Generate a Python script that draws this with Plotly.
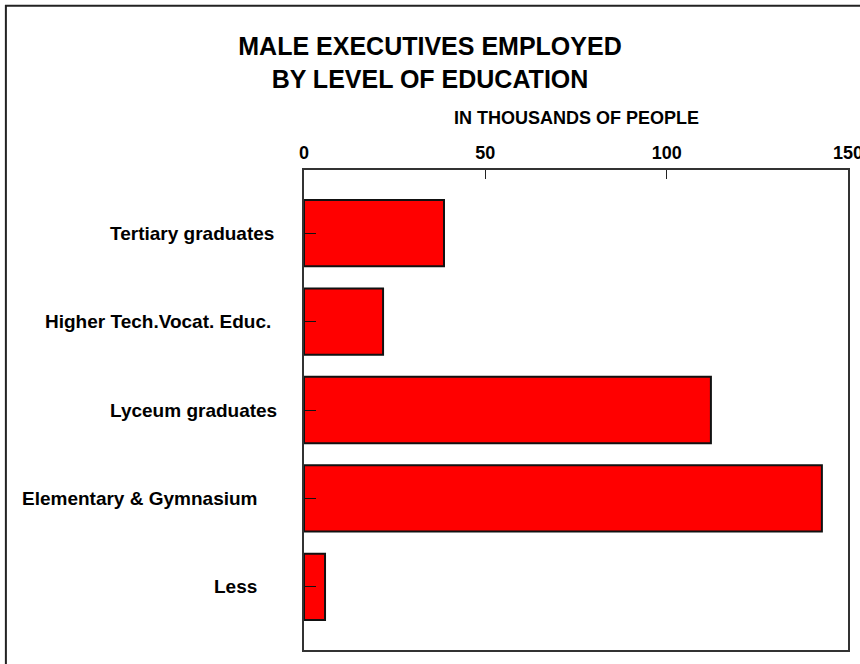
import plotly.graph_objects as go

# data (thousands of people)
categories = [
    "Tertiary graduates",
    "Higher Tech.Vocat. Educ.",
    "Lyceum graduates",
    "Elementary & Gymnasium",
    "Less",
]
executives = [38.6, 21.8, 112.2, 142.8, 5.8]
x_ticks = [0, 50, 100, 150]

# right-edge offsets of the category labels from the axis, in pixels
label_gap = [28, 31, 25, 45, 45]

font_family = "Liberation Sans, Arial, sans-serif"

fig = go.Figure()
fig.add_trace(go.Bar(
    x=executives,
    y=categories,
    orientation="h",
    width=0.75,
    marker=dict(color="#ff0000", line=dict(color="#111111", width=2)),
    showlegend=False,
))

# category labels placed like the original (not all right aligned)
for cat, gap in zip(categories, label_gap):
    fig.add_annotation(
        x=0, xref="paper", y=cat, yref="y",
        text=f"<b>{cat}</b>", showarrow=False,
        xanchor="right", yanchor="middle", xshift=-gap,
        font=dict(size=19, color="black", family=font_family),
    )

fig.add_annotation(
    x=0.5, xref="paper", y=1, yref="paper",
    text="<b>IN THOUSANDS OF PEOPLE</b>", showarrow=False,
    xanchor="center", yanchor="middle", yshift=52,
    font=dict(size=18, color="black", family=font_family),
)

# outer frame of the picture (only top and left edges fall inside the page)
fig.add_shape(
    type="rect", xref="paper", yref="paper",
    x0=-0.548, x1=1.2, y0=-0.2, y1=1.342,
    line=dict(color="#222222", width=2), layer="below",
)

fig.update_layout(
    title=dict(
        text="<b>MALE EXECUTIVES EMPLOYED<br>BY LEVEL OF EDUCATION</b>",
        x=0.5, xref="container", xanchor="center",
        y=1 - 55 / 664, yref="container", yanchor="middle",
        font=dict(size=25, color="black", family=font_family),
    ),
    width=860,
    height=664,
    margin=dict(l=304, r=12, t=170, b=14, autoexpand=False),
    paper_bgcolor="white",
    plot_bgcolor="white",
    font=dict(family=font_family, color="black"),
)

fig.update_xaxes(
    side="top",
    range=[0, 150],
    tickvals=x_ticks,
    ticktext=[f"<b>{v}</b>" for v in x_ticks],
    tickfont=dict(size=18, color="black", family=font_family),
    ticks="inside", ticklen=9, tickcolor="#222222", tickwidth=1,
    ticklabelstandoff=2,
    ticklabeloverflow="allow",
    automargin=False,
    showgrid=False, zeroline=False,
    showline=True, linecolor="#333333", linewidth=2, mirror=True,
)
fig.update_yaxes(
    categoryorder="array",
    categoryarray=categories,
    range=[4.715, -0.715],
    showticklabels=False,
    automargin=False,
    ticks="inside", ticklen=12, tickcolor="#111111", tickwidth=1,
    showgrid=False, zeroline=False,
    showline=True, linecolor="#333333", linewidth=2, mirror=True,
)

# drop the browser's default 8px page margin so the figure sits at the corner
fig.write_html(
    "out.html",
    config={"displayModeBar": False},
    post_script="document.body.style.margin='0';",
)
